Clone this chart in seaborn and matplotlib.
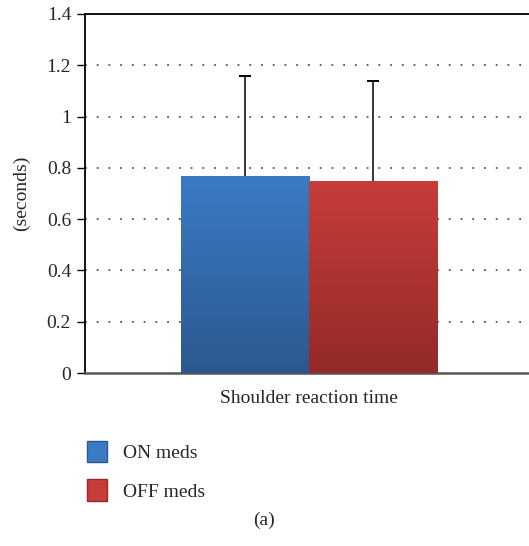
import numpy as np
import pandas as pd
import matplotlib
matplotlib.use("Agg")
import matplotlib.pyplot as plt
import seaborn as sns
from matplotlib.colors import LinearSegmentedColormap
from matplotlib.patches import Patch

# Data
groups = ["ON meds", "OFF meds"]
means = [0.77, 0.75]
errors = [0.39, 0.39]
category = "Shoulder reaction time"
yticks = [0, 0.2, 0.4, 0.6, 0.8, 1, 1.2, 1.4]
ytick_labels = ["0", "0.2", "0.4", "0.6", "0.8", "1", "1.2", "1.4"]

# gradient colours (top, bottom)
grad_colors = {"ON meds": ("#3a7bc4", "#2c5890"), "OFF meds": ("#c63d3a", "#932a29")}

df = pd.DataFrame({"metric": [category] * 2, "group": groups, "value": means})

sns.set_style("white")
plt.rcParams["font.family"] = ["Liberation Serif", "DejaVu Serif"]
fs = 14

fig = plt.figure(figsize=(5.29, 5.46), dpi=100)
ax = fig.add_axes([0.1607, 0.3168, 0.847, 0.6576])

pal = {g: grad_colors[g][0] for g in groups}
sns.barplot(data=df, x="metric", y="value", hue="group", palette=pal,
            errorbar=None, width=0.8, ax=ax, zorder=2, legend=False)

ax.set_xlim(-0.7, 0.7)
ax.set_ylim(0, 1.4)

# gradient fill + upper error bars
for p, g, m, e in zip(ax.patches, groups, means, errors):
    x0 = p.get_x()
    w = p.get_width()
    xc = x0 + w / 2
    top, bot = grad_colors[g]
    cmap = LinearSegmentedColormap.from_list(g, [bot, top])
    grad = np.linspace(0, 1, 100).reshape(-1, 1)
    im = ax.imshow(grad, extent=[x0, x0 + w, 0, m], origin="lower", cmap=cmap,
                   aspect="auto", zorder=3)
    im.set_clip_path(p)
    p.set_alpha(0)
    ax.vlines(xc, m, m + e, color="black", linewidth=1.1, zorder=4)
    ax.hlines(m + e, xc - 0.018, xc + 0.018, color="black", linewidth=1.4, zorder=4)

ax.set_xlim(-0.7, 0.7)
ax.set_ylim(0, 1.4)
ax.set_aspect("auto")

# dotted grid
for t in yticks[1:-1]:
    ax.axhline(t, color="#555555", linestyle=(0, (1, 5.5)), linewidth=1.3, zorder=1)

ax.set_yticks(yticks)
ax.set_yticklabels(ytick_labels, fontsize=fs)
ax.tick_params(axis="y", direction="out", length=6, width=1, color="black", pad=4, left=True)
ax.tick_params(axis="x", length=0, labelsize=fs, pad=12)
ax.set_xticks([-0.7], minor=True)
ax.tick_params(axis="x", which="minor", direction="out", length=6, width=1, color="black")
ax.set_xlabel("")
ax.set_ylabel("(seconds)", fontsize=fs, labelpad=12)

for side in ["left", "top"]:
    ax.spines[side].set_color("black")
    ax.spines[side].set_linewidth(1.3)
ax.spines["bottom"].set_color("#555555")
ax.spines["bottom"].set_linewidth(1.8)
ax.spines["right"].set_visible(False)

# legend below the chart
handles = [Patch(facecolor=grad_colors[g][0], edgecolor=grad_colors[g][1]) for g in groups]
fig.legend(handles, groups, loc="upper left", bbox_to_anchor=(0.149, 0.207),
           frameon=False, fontsize=fs, handlelength=1.05, handleheight=1.3,
           labelspacing=0.9, handletextpad=0.8, borderaxespad=0)

fig.text(0.5, 0.047, "(a)", ha="center", va="center", fontsize=fs)

fig.savefig("out.png", dpi=100)
